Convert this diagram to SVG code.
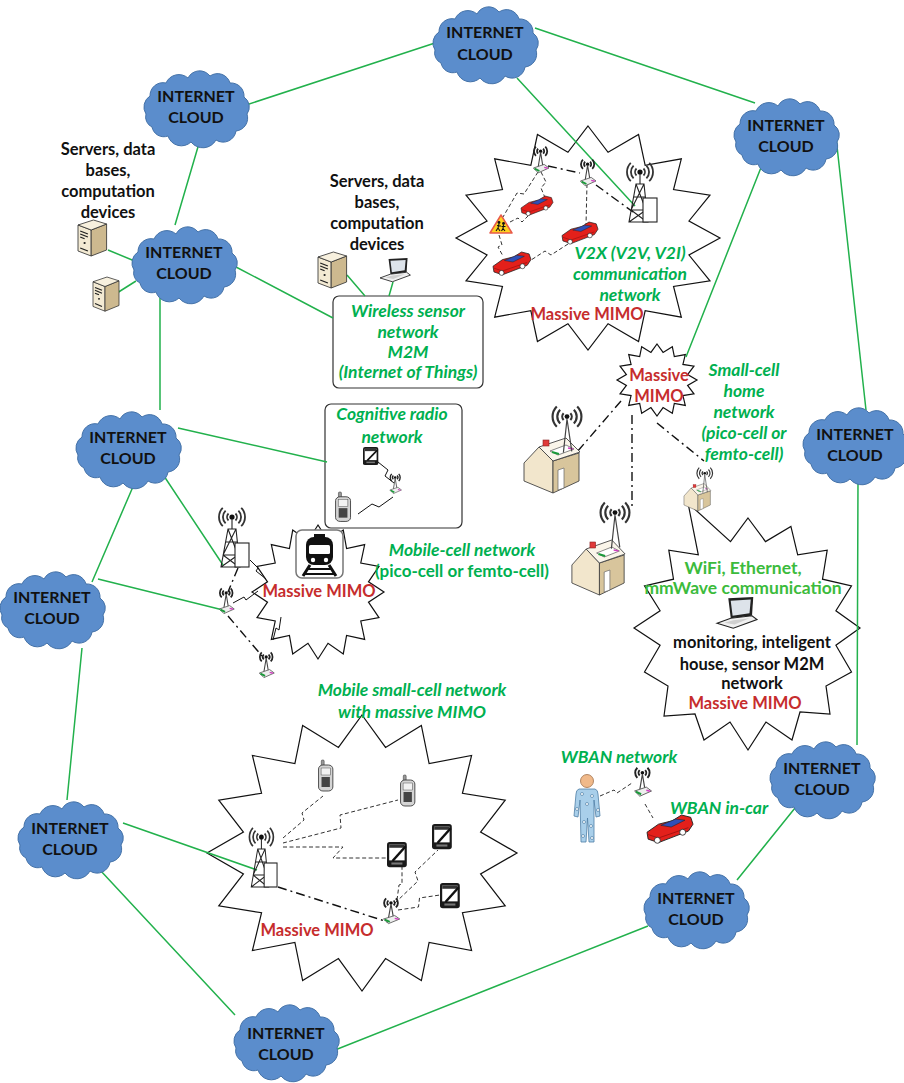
<svg xmlns="http://www.w3.org/2000/svg" width="904" height="1083" viewBox="0 0 904 1083">
<style>
  text{font-family:Lato,"Open Sans","Liberation Sans",sans-serif;font-weight:bold;text-anchor:middle}
  .cl{font-size:16px;fill:#111}
  .k{font-size:16.5px;fill:#111}
  .gi{font-size:17.5px;fill:#00b050;font-style:italic}
  .g{font-size:17px;fill:#00b050}
  .gw{font-size:17.5px;fill:#3cbb3c}
  .r{font-size:16.5px;fill:#c62d2d}
  .link{stroke:#22b14c;stroke-width:1.5;fill:none}
  .dd{stroke:#111;stroke-width:1.4;fill:none;stroke-dasharray:9 4 2 4}
  .ds{stroke:#333;stroke-width:1;fill:none;stroke-dasharray:4 2.5}
  .zz{stroke:#111;stroke-width:1;fill:none}
  .zone{fill:#fff;stroke:#111;stroke-width:1.2}
  .box{fill:#fff;stroke:#333;stroke-width:1.2}
  .cloud{fill:#5b8dcc;stroke:#4472a8;stroke-width:1}
  .wave{fill:none;stroke:#333;stroke-width:1.8}
</style>
<defs>
  <polygon id="star" vector-effect="non-scaling-stroke" points="0,-100 15.2,-76.5 38.3,-92.4 43.3,-64.8 70.7,-70.7 64.8,-43.3 92.4,-38.3 76.5,-15.2 100,0 76.5,15.2 92.4,38.3 64.8,43.3 70.7,70.7 43.3,64.8 38.3,92.4 15.2,76.5 0,100 -15.2,76.5 -38.3,92.4 -43.3,64.8 -70.7,70.7 -64.8,43.3 -92.4,38.3 -76.5,15.2 -100,0 -76.5,-15.2 -92.4,-38.3 -64.8,-43.3 -70.7,-70.7 -43.3,-64.8 -38.3,-92.4 -15.2,-76.5"/>
  <path id="cloud" d="M-50,5A13,13 0 0 1 -46,-13A13,13 0 0 1 -30,-26A14,14 0 0 1 -8,-31A13,13 0 0 1 14,-33A13,13 0 0 1 34,-26A13,13 0 0 1 48,-12A12,12 0 0 1 51,5A13,13 0 0 1 40,22A13,13 0 0 1 20,31A15,15 0 0 1 -5,33A14,14 0 0 1 -28,27A12,12 0 0 1 -44,18A11,11 0 0 1 -50,5Z"/>
  <g id="tower">
    <circle cx="20" cy="12" r="2.6" fill="#111"/>
    <path class="wave" d="M16.5,8.5A5,5 0 0 0 16.5,15.5M23.5,8.5A5,5 0 0 1 23.5,15.5M13.6,5.6A9,9 0 0 0 13.6,18.4M26.4,5.6A9,9 0 0 1 26.4,18.4M10.8,2.8A13,13 0 0 0 10.8,21.2M29.2,2.8A13,13 0 0 1 29.2,21.2"/>
    <path d="M20,14V24M16,24H24L28,62H9ZM16,24L26,50M24,24L11,50M11,50H26M11,50L27,62M26,50L9,62M14,37H25" fill="none" stroke="#222" stroke-width="1.1"/>
    <rect x="23" y="38" width="14" height="24" fill="#fff" stroke="#222" stroke-width="1.1"/>
  </g>
  <g id="ant">
    <circle cx="8" cy="6" r="1.4" fill="#111"/>
    <path d="M5.9,3.9A3,3 0 0 0 5.9,8.1M10.1,3.9A3,3 0 0 1 10.1,8.1M4.1,2.1A5.5,5.5 0 0 0 4.1,9.9M11.9,2.1A5.5,5.5 0 0 1 11.9,9.9" fill="none" stroke="#222" stroke-width="1.5"/>
    <path d="M8,7L6,19M8,7L10,19" stroke="#444" stroke-width="0.9" fill="none"/>
    <path d="M2,20L11,17L15,20L6,24Z" fill="#eee" stroke="#555" stroke-width="0.7"/>
    <path d="M3,20.5L7,22.5" stroke="#1a9a3a" stroke-width="1.6"/>
    <path d="M11,19.5L14,20.2" stroke="#d040c0" stroke-width="1.2"/>
  </g>
  <g id="hant">
    <circle cx="15" cy="8" r="2" fill="#111"/>
    <path d="M12.2,5.2A4,4 0 0 0 12.2,10.8M17.8,5.2A4,4 0 0 1 17.8,10.8M9.3,2.3A8,8 0 0 0 9.3,13.7M20.7,2.3A8,8 0 0 1 20.7,13.7M6.5,-0.5A12,12 0 0 0 6.5,16.5M23.5,-0.5A12,12 0 0 1 23.5,16.5" fill="none" stroke="#333" stroke-width="1.8"/>
    <path d="M15,10L12,38M15,10L19,37" stroke="#444" stroke-width="1" fill="none"/>
  </g>
  <g id="house">
    <polygon points="2,30 17,14 31,28 31,60 2,48" fill="#f2e6cc" stroke="#444" stroke-width="0.9"/>
    <polygon points="31,28 57,20 57,48 31,60" fill="#d8c59c" stroke="#444" stroke-width="0.9"/>
    <polygon points="17,14 44,5 58,19 31,28" fill="#faf5ea" stroke="#444" stroke-width="0.9"/>
    <polygon points="36,37 42,35 42,55 36,57" fill="#fff" stroke="#666" stroke-width="0.7"/>
    <polygon points="28,18 44,12 52,16 36,22" fill="#fff" stroke="#555" stroke-width="0.7"/>
    <path d="M30,19L37,21" stroke="#1a9a3a" stroke-width="2"/>
    <path d="M46,15L51,16" stroke="#d040c0" stroke-width="1.5"/>
    <rect x="21" y="7" width="6" height="6" fill="#e03a3a" stroke="#822" stroke-width="0.6"/>
  </g>
  <g id="car">
    <polygon points="0,15 10,8 22,5 30,0 38,2 40,8 36,14 10,24 1,21" fill="#e3201b" stroke="#222" stroke-width="0.8"/>
    <polygon points="12,9 25,3.5 33,4.5 21,10.5" fill="#2f4fb8" stroke="#222" stroke-width="0.5"/>
    <path d="M1,17L10,20L36,11" fill="none" stroke="#8a0d0d" stroke-width="0.6"/>
    <circle cx="9" cy="22" r="2.6" fill="#fff" stroke="#222" stroke-width="0.7"/>
    <circle cx="31" cy="15" r="2.6" fill="#fff" stroke="#222" stroke-width="0.7"/>
  </g>
  <g id="server">
    <polygon points="0,5 12,10 12,36 0,31" fill="#f3ead3" stroke="#333" stroke-width="0.8"/>
    <polygon points="12,10 26,4 26,30 12,36" fill="#cdb98f" stroke="#333" stroke-width="0.8"/>
    <polygon points="0,5 14,0 26,4 12,10" fill="#f7f0de" stroke="#333" stroke-width="0.8"/>
    <path d="M2,11L9,14M2,14L9,17M2,17L6,18.7M2,28L9,31" stroke="#222" stroke-width="1.2"/>
    <circle cx="6" cy="23" r="1" fill="#222"/>
  </g>
  <g id="laptop">
    <polygon points="9,1 29,0 28,15 11,17" fill="#222"/>
    <polygon points="11,3 27,2 26,13 12.5,15" fill="#dde3ea"/>
    <polygon points="0,21 11,17 28,15 32,18 13,25" fill="#f0f0f0" stroke="#222" stroke-width="0.9"/>
    <polygon points="6,20.5 13,18.5 26,17 14,22" fill="#cfcfcf"/>
  </g>
  <g id="phone">
    <rect x="3" y="0" width="2.6" height="7" rx="1" fill="#999" stroke="#333" stroke-width="0.5"/>
    <rect x="0.5" y="5" width="13" height="26" rx="4" fill="#d4d4d4" stroke="#333" stroke-width="0.8"/>
    <rect x="2.8" y="8" width="8.4" height="7" fill="#f2f2f2" stroke="#555" stroke-width="0.5"/>
    <rect x="3.2" y="17" width="7.6" height="10" fill="#444"/>
  </g>
  <g id="pda">
    <rect x="0" y="0" width="18" height="24" rx="2.5" fill="#1a1a1a"/>
    <rect x="2" y="2.5" width="14" height="15" fill="#fff"/>
    <rect x="2" y="2.5" width="14" height="3" fill="#333"/>
    <line x1="5" y1="18" x2="17" y2="4" stroke="#111" stroke-width="2.2"/>
    <rect x="4" y="19.5" width="10" height="2" fill="#777"/>
  </g>
</defs>

<!-- network zones -->
<g id="zones">
  <use href="#star" class="zone" transform="translate(588,238) scale(1.32,1.12)"/>
  <use href="#star" class="zone" transform="translate(657,380) scale(0.4,0.36)"/>
  <use href="#star" class="zone" transform="translate(318,592) scale(0.66,0.67)"/>
  <use href="#star" class="zone" transform="translate(362,853) scale(1.55,1.38)"/>
  <polygon class="zone" points="748,518 765.5,541.6 790.9,526.4 797.7,554.8 827.2,550.2 822.5,579.2 851.5,585.9 835.9,610.8 860,628 835.9,645.2 851.5,672 826,686 830,714 800,712 792,740 766,722 748,750 730,722 704,740 695,714 664,716 668,686 644.5,672 660.1,645.2 634,628 660.1,610.8 644.5,585.9 673.5,579.2 668.8,550.2 698.3,554.8 688,503 730.5,541.6"/>
  <rect class="box" x="333" y="296" width="150" height="92" rx="6"/>
  <rect class="box" x="325" y="404" width="137" height="124" rx="6"/>
</g>

<!-- connectors -->
<g id="connectors">
  <path class="link" d="M240,107L438,42M535,28L755,103M517,78L635,206M835,128L866,410M762,165L686,357M858,480L857,745M795,808L737,880M648,926L335,1050M235,1015L100,870M67,800L82,648M92,582L135,482M160,410L160,298M175,225L200,140M236,267L333,318M108,250L137,262M117,293L136,281M347,275L365,296M393,282L389,296M178,428L327,462M160,470L223,565M98,579L223,610M123,823L257,870"/>
  <!-- V2X -->
  <path class="ds" d="M541,172L546,182L541,188L546,200M538,172L524,194L517,193L503,217M510,222L518,218L522,222L530,214M499,235L502,245L498,247L503,256M568,244L551,255L545,251L528,262M587,184L586,225"/>
  <path class="dd" d="M548,166L580,173M596,185L633,212"/>
  <!-- cognitive radio -->
  <path class="zz" d="M378,462L388,470L385,476L394,483M393,497L379,507L372,504L358,514"/>
  <!-- mobile cell -->
  <path class="zz" d="M250,560L258,568L256,571L266,579M233,603L244,597L246,600L258,591M273,640L276,628L279,630L281,617"/>
  <path class="dd" d="M238,568L228,592M228,616L262,656"/>
  <!-- small-cell homes -->
  <path class="dd" d="M621,401L577,452M632,415L632,507M657,423L704,461"/>
  <!-- WBAN -->
  <path class="ds" d="M600,796L614,790L617,793L632,783M645,804L653,818"/>
  <!-- mobile small-cell -->
  <path class="ds" d="M283,838L304,820L302,813L323,796M283,843L341,828L340,815L398,800M283,847L343,847L333,858L387,858M397,900L399,885L402,884L402,866M395,903L418,881L415,872L438,850M398,910L418.5,907L419.5,898L440,895"/>
  <path class="dd" d="M278,887L388,922"/>
</g>

<!-- internet clouds -->
<g id="cloud-top"><use href="#cloud" class="cloud" transform="translate(485,45)"/><text class="cl" x="485" y="38">INTERNET</text><text class="cl" x="485" y="60">CLOUD</text></g>
<g id="cloud-top-left"><use href="#cloud" class="cloud" transform="translate(196,109)"/><text class="cl" x="196" y="102">INTERNET</text><text class="cl" x="196" y="123">CLOUD</text></g>
<g id="cloud-left-2"><use href="#cloud" class="cloud" transform="translate(184,265)"/><text class="cl" x="184" y="258">INTERNET</text><text class="cl" x="184" y="279">CLOUD</text></g>
<g id="cloud-left-3"><use href="#cloud" class="cloud" transform="translate(128,450)"/><text class="cl" x="128" y="443">INTERNET</text><text class="cl" x="128" y="464">CLOUD</text></g>
<g id="cloud-left-4"><use href="#cloud" class="cloud" transform="translate(52,610)"/><text class="cl" x="52" y="603">INTERNET</text><text class="cl" x="52" y="624">CLOUD</text></g>
<g id="cloud-left-bottom"><use href="#cloud" class="cloud" transform="translate(70,840)"/><text class="cl" x="70" y="834">INTERNET</text><text class="cl" x="70" y="855">CLOUD</text></g>
<g id="cloud-bottom"><use href="#cloud" class="cloud" transform="translate(286,1043)"/><text class="cl" x="286" y="1039">INTERNET</text><text class="cl" x="286" y="1060">CLOUD</text></g>
<g id="cloud-bottom-right"><use href="#cloud" class="cloud" transform="translate(696,910)"/><text class="cl" x="696" y="904">INTERNET</text><text class="cl" x="696" y="925">CLOUD</text></g>
<g id="cloud-right-lower"><use href="#cloud" class="cloud" transform="translate(822,780)"/><text class="cl" x="822" y="774">INTERNET</text><text class="cl" x="822" y="795">CLOUD</text></g>
<g id="cloud-right-middle"><use href="#cloud" class="cloud" transform="translate(855,446)"/><text class="cl" x="855" y="440">INTERNET</text><text class="cl" x="855" y="461">CLOUD</text></g>
<g id="cloud-right-top"><use href="#cloud" class="cloud" transform="translate(786,137)"/><text class="cl" x="786" y="131">INTERNET</text><text class="cl" x="786" y="152">CLOUD</text></g>

<!-- servers at the left -->
<g id="servers-left">
  <text class="k" x="108" y="155">Servers, data</text>
  <text class="k" x="108" y="176">bases,</text>
  <text class="k" x="108" y="197">computation</text>
  <text class="k" x="108" y="218">devices</text>
  <use href="#server" transform="translate(78,220) scale(1.1,1)"/>
  <use href="#server" transform="translate(93,277) scale(1,0.95)"/>
</g>

<!-- wireless sensor network -->
<g id="wsn">
  <text class="k" x="377" y="187">Servers, data</text>
  <text class="k" x="377" y="208">bases,</text>
  <text class="k" x="377" y="229">computation</text>
  <text class="k" x="377" y="250">devices</text>
  <use href="#server" transform="translate(318,252) scale(1.1,1)"/>
  <use href="#laptop" transform="translate(380,258) scale(0.95)"/>
  <text class="gi" x="408" y="317">Wireless sensor</text>
  <text class="gi" x="408" y="338">network</text>
  <text class="gi" x="408" y="358">M2M</text>
  <text class="gi" x="408" y="378">(Internet of Things)</text>
</g>

<!-- V2X network -->
<g id="v2x">
  <use href="#tower" transform="translate(620,160)"/>
  <use href="#ant" transform="translate(531,144) scale(1.2)"/>
  <use href="#ant" transform="translate(578,157) scale(1.2)"/>
  <use href="#car" transform="translate(521,196) scale(0.8)"/>
  <use href="#car" transform="translate(562,222) scale(0.9)"/>
  <use href="#car" transform="translate(493,252) scale(0.95)"/>
  <g transform="translate(490,214)">
    <polygon points="11,1 22,19 0,19" fill="#ffd21f" stroke="#e85a4a" stroke-width="1.5" stroke-linejoin="round"/>
    <circle cx="9" cy="8.5" r="1.4" fill="#111"/><circle cx="13.5" cy="9.5" r="1.4" fill="#111"/>
    <path d="M9,10L8,14L6,17M8,14L10,17M7,11.5L11,12M13.5,11L13,14.5L11.5,17M13,14.5L15,17M11.5,12.5L15.5,12.5" stroke="#111" stroke-width="1.1" fill="none"/>
  </g>
  <text class="gi" x="630" y="259">V2X (V2V, V2I)</text>
  <text class="gi" x="630" y="280">communication</text>
  <text class="gi" x="630" y="301">network</text>
  <text class="r" x="587" y="320">Massive MIMO</text>
</g>

<!-- cognitive radio network -->
<g id="cognitive">
  <text class="gi" x="392" y="420">Cognitive radio</text>
  <text class="gi" x="392" y="443">network</text>
  <use href="#pda" transform="translate(363,447) scale(0.85,0.75)"/>
  <use href="#ant" transform="translate(388,472) scale(0.9)"/>
  <use href="#phone" transform="translate(335,492) scale(1.15,0.95)"/>
</g>

<!-- mobile-cell network -->
<g id="mobile-cell">
  <use href="#tower" transform="translate(212,505)"/>
  <use href="#ant" transform="translate(217,586) scale(1.15)"/>
  <use href="#ant" transform="translate(257,650) scale(1.15)"/>
  <rect x="296" y="530" width="47" height="48" rx="6" fill="#fff" stroke="#777" stroke-width="1.5"/>
  <rect x="314" y="534" width="11" height="5" fill="#111"/>
  <rect x="306" y="537" width="27" height="28" rx="8" fill="#111"/>
  <rect x="309" y="545" width="21" height="9" rx="1.5" fill="#fff"/>
  <circle cx="313" cy="560" r="2.2" fill="#fff"/><circle cx="326" cy="560" r="2.2" fill="#fff"/>
  <path d="M310,565L303,576M329,565L336,576" stroke="#111" stroke-width="3"/>
  <path d="M307,569H332M304,574H335" stroke="#111" stroke-width="2"/>
  <text class="r" x="319" y="597">Massive MIMO</text>
  <text class="gi" x="462" y="556">Mobile-cell network</text>
  <text class="g" x="462" y="577">(pico-cell or femto-cell)</text>
</g>

<!-- small-cell home network -->
<g id="small-cell">
  <text class="r" x="659" y="381">Massive</text>
  <text class="r" x="659" y="402">MIMO</text>
  <text class="gi" x="744" y="376">Small-cell</text>
  <text class="gi" x="744" y="397">home</text>
  <text class="gi" x="744" y="418">network</text>
  <text class="gi" x="744" y="439">(pico-cell or</text>
  <text class="gi" x="744" y="460">femto-cell)</text>
  <use href="#house" transform="translate(522,433)"/>
  <use href="#hant" transform="translate(549,407) scale(1.2)"/>
  <use href="#house" transform="translate(570,535) scale(0.95,1)"/>
  <use href="#hant" transform="translate(597,503) scale(1.2)"/>
  <use href="#house" transform="translate(683,481) scale(0.48,0.5)"/>
  <use href="#hant" transform="translate(695,468) scale(0.65)"/>
</g>

<!-- home WiFi network -->
<g id="home-wifi">
  <text class="gw" x="743" y="574">WiFi, Ethernet,</text>
  <text class="gw" x="743" y="594">mmWave communication</text>
  <use href="#laptop" transform="translate(717,597) scale(1.25)"/>
  <text class="k" x="752" y="648">monitoring, inteligent</text>
  <text class="k" x="752" y="670">house, sensor M2M</text>
  <text class="k" x="752" y="689">network</text>
  <text class="r" x="745" y="709">Massive MIMO</text>
</g>

<!-- WBAN -->
<g id="wban">
  <text class="gi" x="619" y="763">WBAN network</text>
  <text class="gi" x="719" y="814">WBAN in-car</text>
  <g transform="translate(573,774)">
    <path d="M6,15L22,15Q25,16 25,20L27,42L23,43L21,26L21,68L16,68L14.5,44L13,68L8,68L7,26L5,43L1,42L3,20Q3,16 6,15Z" fill="#a9cfea" stroke="#4f7fa6" stroke-width="0.8"/>
    <circle cx="14" cy="7" r="6.5" fill="#f0b98a" stroke="#a0704a" stroke-width="0.8"/>
    <g fill="#fff" stroke="#4f7fa6" stroke-width="0.7">
      <circle cx="9" cy="20" r="1.5"/><circle cx="19" cy="22" r="1.5"/><circle cx="4" cy="35" r="1.5"/><circle cx="25" cy="36" r="1.5"/><circle cx="11" cy="48" r="1.5"/><circle cx="18" cy="52" r="1.5"/><circle cx="10" cy="62" r="1.5"/><circle cx="19" cy="64" r="1.5"/><circle cx="14" cy="30" r="1.5"/>
    </g>
  </g>
  <use href="#ant" transform="translate(632,765) scale(1.3)"/>
  <use href="#car" transform="translate(647,815) scale(1.15)"/>
</g>

<!-- mobile small-cell network -->
<g id="mobile-small-cell">
  <text class="gi" x="412" y="696">Mobile small-cell network</text>
  <text class="gi" x="412" y="718">with massive MIMO</text>
  <use href="#tower" transform="translate(243,825) scale(0.92,1)"/>
  <use href="#phone" transform="translate(318,760) scale(1.1,1)"/>
  <use href="#phone" transform="translate(400,775) scale(1.1,1)"/>
  <use href="#pda" transform="translate(387,842) scale(1.1,1.05)"/>
  <use href="#pda" transform="translate(432,824) scale(1.1,1.05)"/>
  <use href="#pda" transform="translate(440,883) scale(1.1,1.05)"/>
  <use href="#ant" transform="translate(381,896) scale(1.25,1.15)"/>
  <text class="r" x="317" y="936">Massive MIMO</text>
</g>
</svg>
